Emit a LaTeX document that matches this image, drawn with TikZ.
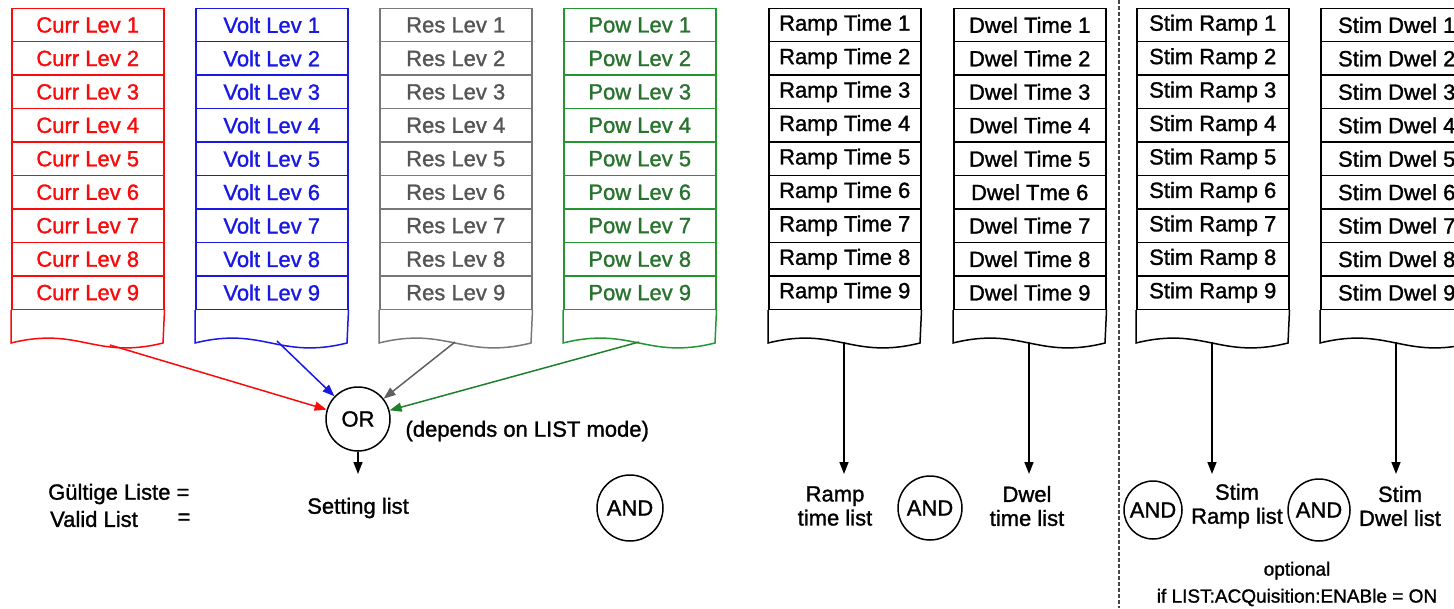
\documentclass[tikz,border=0pt]{standalone}
\usepackage{fontspec}
\setmainfont{Liberation Sans}[UprightFeatures={FakeBold=1.3}]
\usetikzlibrary{arrows.meta}
\definecolor{cred}{RGB}{250,10,10}
\definecolor{cblue}{RGB}{25,25,230}
\definecolor{cgrayline}{RGB}{120,120,120}
\definecolor{cgraytext}{RGB}{85,85,85}
\definecolor{cgreen}{RGB}{35,150,50}
\definecolor{cgreentext}{RGB}{40,115,45}
\definecolor{cdash}{RGB}{70,70,70}

\tikzset{
  cell/.style={rectangle, minimum width=152pt, minimum height=33.45pt, inner sep=0pt,
               line width=1.5pt, font=\fontsize{22}{24}\selectfont},
  cellline/.style={line width=1.5pt},
  arr/.style={-{Triangle[length=12pt,width=9pt]}, line width=1.5pt},
  gate/.style={circle, draw, line width=1.5pt, inner sep=0pt, font=\fontsize{22}{24}\selectfont},
  lbl/.style={align=center, font=\fontsize{22}{24}\selectfont},
  small/.style={align=center, font=\fontsize{19}{27}\selectfont},
}

\newcommand\listcolumn[5]{%
  \foreach \t [count=\i] in {#5} {
    \node[cell, draw=#3, text=#4, anchor=north west] (#1-\i) at (#2,{7.5+(\i-1)*33.45}) {\t};
  }
  \draw[#3, cellline] (#1-9.south west) -- (#2,343)
     .. controls ({#2+68},326) and ({#2+84},360) .. ({#2+152},343) -- (#1-9.south east);
  \coordinate (#1-mid) at ({#2+76},342);
}

\begin{document}
\begin{tikzpicture}[x=1pt, y=-1pt]
\useasboundingbox (0,0) rectangle (1454,608);
\clip (0,0) rectangle (1454,608);

\listcolumn{curr}{11}{cred}{cred}{Curr Lev 1,Curr Lev 2,Curr Lev 3,Curr Lev 4,Curr Lev 5,Curr Lev 6,Curr Lev 7,Curr Lev 8,Curr Lev 9}
\listcolumn{volt}{195}{cblue}{cblue}{Volt Lev 1,Volt Lev 2,Volt Lev 3,Volt Lev 4,Volt Lev 5,Volt Lev 6,Volt Lev 7,Volt Lev 8,Volt Lev 9}
\listcolumn{res}{379}{cgrayline}{cgraytext}{Res Lev 1,Res Lev 2,Res Lev 3,Res Lev 4,Res Lev 5,Res Lev 6,Res Lev 7,Res Lev 8,Res Lev 9}
\listcolumn{pow}{563}{cgreen}{cgreentext}{Pow Lev 1,Pow Lev 2,Pow Lev 3,Pow Lev 4,Pow Lev 5,Pow Lev 6,Pow Lev 7,Pow Lev 8,Pow Lev 9}
\listcolumn{ramp}{768}{black}{black}{Ramp Time 1,Ramp Time 2,Ramp Time 3,Ramp Time 4,Ramp Time 5,Ramp Time 6,Ramp Time 7,Ramp Time 8,Ramp Time 9}
\listcolumn{dwel}{953}{black}{black}{Dwel Time 1,Dwel Time 2,Dwel Time 3,Dwel Time 4,Dwel Time 5,Dwel Tme 6,Dwel Time 7,Dwel Time 8,Dwel Time 9}
\listcolumn{sramp}{1136}{black}{black}{Stim Ramp 1,Stim Ramp 2,Stim Ramp 3,Stim Ramp 4,Stim Ramp 5,Stim Ramp 6,Stim Ramp 7,Stim Ramp 8,Stim Ramp 9}
\listcolumn{sdwel}{1320}{black}{black}{Stim Dwel 1,Stim Dwel 2,Stim Dwel 3,Stim Dwel 4,Stim Dwel 5,Stim Dwel 6,Stim Dwel 7,Stim Dwel 8,Stim Dwel 9}

% OR gate and its inputs
\node[gate, minimum size=64pt] (or) at (358,419) {OR};
\coordinate (currstart) at (110,345);
\coordinate (voltstart) at (277,341);
\draw[arr, cred] (currstart) -- (or);
\draw[arr, cblue] (voltstart) -- (or);
\draw[arr, cgrayline!80!black] (res-mid) -- (or);
\draw[arr, cgreen!85!black] (pow-mid) -- (or);
\coordinate (orout) at (358,474);
\draw[arr] (or.south) -- (orout);
\node[lbl, anchor=west] (depends) at (402,431) {(depends on LIST mode)};
\node[lbl] (setting) at (358,508) {Setting list};

% legend
\node[lbl, anchor=east] (gueltig) at (193,494) {Gültige Liste =};
\node[lbl] (valid) at (94,519) {Valid List};
\node[lbl] (valideq) at (184,519) {=};

\node[gate, minimum size=66pt] (and1) at (630,508) {AND};

% ramp / dwel
\coordinate (ramptip) at (844,474);
\coordinate (dweltip) at (1029,474);
\draw[arr] (ramp-mid) -- (ramptip);
\draw[arr] (dwel-mid) -- (dweltip);
\node[lbl] (ramplist) at (835,506) {Ramp\\time list};
\node[gate, minimum size=64pt] (and2) at (930,508) {AND};
\node[lbl] (dwellist) at (1027,506) {Dwel\\time list};

% divider
\coordinate (dtop) at (1119,0);
\coordinate (dbot) at (1119,608);
\draw[cdash, line width=1.4pt, dash pattern=on 4pt off 2pt] (dtop) -- (dbot);

% stim lists
\coordinate (sramptip) at (1212,474);
\coordinate (sdweltip) at (1396,474);
\draw[arr] (sramp-mid) -- (sramptip);
\draw[arr] (sdwel-mid) -- (sdweltip);
\node[gate, minimum size=58pt] (and3) at (1153,510) {AND};
\node[lbl] (sramplist) at (1237,506) {Stim\\Ramp list};
\node[gate, minimum size=62pt] (and4) at (1319,510) {AND};
\node[lbl] (sdwellist) at (1400,506) {Stim\\Dwel list};
\node[small] (optional) at (1297,584) {optional\\if LIST:ACQuisition:ENABle = ON};
\end{tikzpicture}
\end{document}
